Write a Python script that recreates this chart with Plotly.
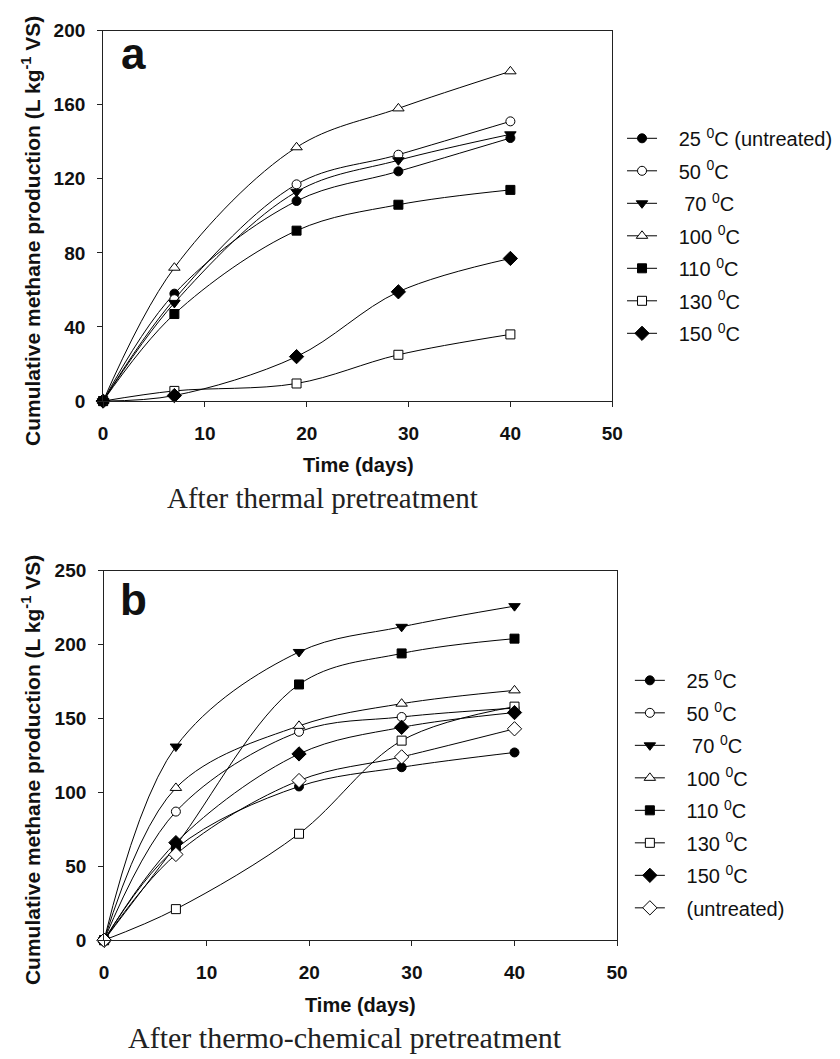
import plotly.graph_objects as go

W, H = 840, 1059

days = [0, 7, 19, 29, 40]

# Panel a: after thermal pretreatment
a_labels = ["25 <sup>0</sup>C (untreated)", "50 <sup>0</sup>C", "\u00a070 <sup>0</sup>C",
            "100 <sup>0</sup>C", "110 <sup>0</sup>C", "130 <sup>0</sup>C", "150 <sup>0</sup>C"]
a_25 = [0, 58, 108, 124, 142]
a_50 = [0, 55, 117, 133, 151]
a_70 = [0, 53, 113, 130, 144]
a_100 = [0, 72, 137, 158, 178]
a_110 = [0, 47, 92, 106, 114]
a_130 = [0, 5.5, 9.5, 25, 36]
a_150 = [0, 3, 24, 59, 77]
a_series = [a_25, a_50, a_70, a_100, a_110, a_130, a_150]

# Panel b: after thermo-chemical pretreatment
b_labels = ["25 <sup>0</sup>C", "50 <sup>0</sup>C", "\u00a070 <sup>0</sup>C", "100 <sup>0</sup>C",
            "110 <sup>0</sup>C", "130 <sup>0</sup>C", "150 <sup>0</sup>C", "(untreated)"]
b_25 = [0, 62, 104, 117, 127]
b_50 = [0, 87, 141, 151, 157]
b_70 = [0, 131, 195, 212, 226]
b_100 = [0, 103, 145, 160, 169]
b_110 = [0, 64, 173, 194, 204]
b_130 = [0, 21, 72, 135, 158]
b_150 = [0, 66, 126, 144, 154]
b_untr = [0, 58, 108, 124, 143]
b_series = [b_25, b_50, b_70, b_100, b_110, b_130, b_150, b_untr]

# marker styles: (symbol, fill, size)
styles = [("circle", "black", 9), ("circle", "white", 9), ("triangle-down", "black", 10),
          ("triangle-up", "white", 10), ("square", "black", 9), ("square", "white", 9),
          ("diamond", "black", 11), ("diamond", "white", 11)]

SANS = "Liberation Sans"
SERIF = "Liberation Serif"
PAD = "\u00a0\u00a0\u00a0"

fig = go.Figure()

def px_x(p):
    return p / W

def px_y(p):
    return 1 - p / H

for i, (lab, ys) in enumerate(zip(a_labels, a_series)):
    sym, fill, sz = styles[i]
    fig.add_trace(go.Scatter(
        x=days, y=ys, mode="lines+markers", name=PAD + lab,
        line=dict(color="black", width=1, shape="spline", smoothing=1),
        marker=dict(symbol=sym, color=fill, size=sz, line=dict(color="black", width=1)),
        cliponaxis=False, xaxis="x", yaxis="y", legend="legend", legendgroup="a%d" % i))

for i, (lab, ys) in enumerate(zip(b_labels, b_series)):
    sym, fill, sz = styles[i]
    fig.add_trace(go.Scatter(
        x=days, y=ys, mode="lines+markers", name=PAD + lab,
        line=dict(color="black", width=1, shape="spline", smoothing=1),
        marker=dict(symbol=sym, color=fill, size=sz, line=dict(color="black", width=1)),
        cliponaxis=False, xaxis="x2", yaxis="y2", legend="legend2", legendgroup="b%d" % i))

axis_common = dict(showline=True, linecolor="#222", linewidth=1, mirror=True,
                   ticks="outside", ticklen=5, tickwidth=1, tickcolor="#222",
                   showgrid=False, zeroline=False,
                   tickfont=dict(family=SANS, size=19, color="#111", weight="bold"))

fig.update_layout(
    width=W, height=H, margin=dict(l=0, r=0, t=0, b=0),
    paper_bgcolor="white", plot_bgcolor="white",
    xaxis=dict(domain=[px_x(100), px_x(619)], range=[0, 50], tickvals=[0, 10, 20, 30, 40, 50],
               anchor="y", ticklabelstandoff=10, **axis_common),
    yaxis=dict(domain=[px_y(399), px_y(21)], range=[0, 200], tickvals=[0, 40, 80, 120, 160, 200],
               anchor="x", ticklabelstandoff=8, **axis_common),
    xaxis2=dict(domain=[px_x(101), px_x(624)], range=[0, 50], tickvals=[0, 10, 20, 30, 40, 50],
                anchor="y2", ticklabelstandoff=10, **axis_common),
    yaxis2=dict(domain=[px_y(949), px_y(572)], range=[0, 250], tickvals=[0, 50, 100, 150, 200, 250],
                anchor="x2", ticklabelstandoff=8, **axis_common),
    legend=dict(x=px_x(629), y=px_y(111), xanchor="left", yanchor="top",
                font=dict(family=SANS, size=20, color="#111"), bgcolor="rgba(0,0,0,0)",
                tracegroupgap=3.5, itemclick=False),
    legend2=dict(x=px_x(637), y=px_y(664), xanchor="left", yanchor="top",
                 font=dict(family=SANS, size=20, color="#111"), bgcolor="rgba(0,0,0,0)",
                 tracegroupgap=3.5, itemclick=False),
    showlegend=True,
)

ytitle = "Cumulative methane production (L kg<sup>-1</sup> VS)"
ann = [
    dict(text="a", x=px_x(131), y=px_y(44), font=dict(family=SANS, size=44, color="#111", weight="bold")),
    dict(text="b", x=px_x(131), y=px_y(601), font=dict(family=SANS, size=44, color="#111", weight="bold")),
    dict(text=ytitle, x=px_x(26), y=px_y(226), textangle=-90,
         font=dict(family=SANS, size=21, color="#111", weight="bold")),
    dict(text=ytitle, x=px_x(26), y=px_y(776), textangle=-90,
         font=dict(family=SANS, size=21, color="#111", weight="bold")),
    dict(text="Time (days)", x=px_x(360), y=px_y(464),
         font=dict(family=SANS, size=20, color="#111", weight="bold")),
    dict(text="Time (days)", x=px_x(362), y=px_y(1015),
         font=dict(family=SANS, size=20, color="#111", weight="bold")),
    dict(text="After thermal pretreatment", x=px_x(324), y=px_y(498),
         font=dict(family=SERIF, size=29, color="#222")),
    dict(text="After thermo-chemical pretreatment", x=px_x(347), y=px_y(1048),
         font=dict(family=SERIF, size=30, color="#222")),
]
for a in ann:
    a.update(xref="paper", yref="paper", showarrow=False, xanchor="center", yanchor="middle")
fig.update_layout(annotations=ann)

fig.write_html("out.html")
